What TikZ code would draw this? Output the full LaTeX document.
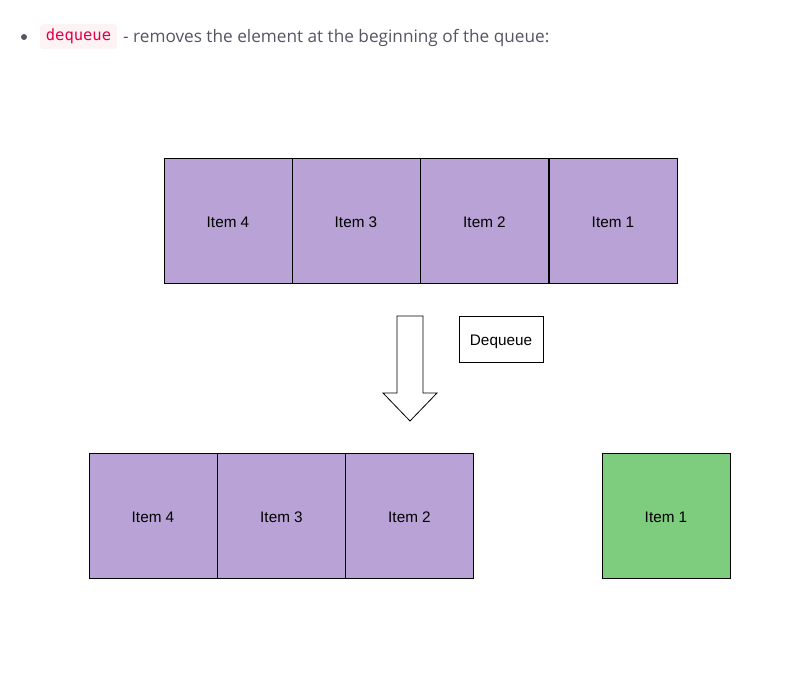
\documentclass[tikz,border=0pt]{standalone}
\usepackage{fontspec}
\setmainfont{Liberation Sans}
\newfontfamily\headfont{Open Sans}
\newfontfamily\codefont{DejaVu Sans Mono}
\definecolor{itempurple}{RGB}{185,163,214}
\definecolor{itemgreen}{RGB}{126,204,126}
\definecolor{codered}{RGB}{224,0,70}
\definecolor{codebg}{RGB}{253,242,244}
\definecolor{textgrey}{RGB}{85,85,100}
\tikzset{
  item/.style = {draw, line width=1pt, fill=itempurple, minimum width=128pt,
    minimum height=125pt, inner sep=0pt, outer sep=0pt, text height=13pt,
    text depth=0pt, font=\fontsize{15.3}{18}\selectfont},
  label box/.style = {draw, line width=0.8pt, fill=white, minimum width=84pt,
    minimum height=46pt, inner sep=0pt, text height=13pt, text depth=0pt,
    font=\fontsize{15.3}{18}\selectfont}
}
\begin{document}
\begin{tikzpicture}[x = 1pt, y = -1pt]
  \useasboundingbox (0,0) rectangle (788,686);
  % heading line
  \fill[textgrey] (24,37) circle (3);
  \node [fill=codebg, rounded corners=3pt, text=codered, inner sep=0pt,
    minimum width=77pt, minimum height=25pt,
    font=\codefont\fontsize{15.5}{18}\selectfont] (code) at (78.5,36.5) {dequeue};
  \node [anchor=west, text=textgrey, inner sep=0pt,
    font=\headfont\fontsize{17.2}{20}\selectfont] (heading) at (123,37.5)
    {- removes the element at the beginning of the queue:};
  % queue before
  \node [item] (a4) at (228,220.5) {Item 4};
  \node [item] (a3) at (356,220.5) {Item 3};
  \node [item] (a2) at (484.5,220.5) {Item 2};
  \node [item] (a1) at (613,220.5) {Item 1};
  % arrow
  \draw [line width=0.8pt, fill=white] (397,316) -- (423,316) -- (423,393)
    -- (437,393) -- (410,421) -- (383,393) -- (397,393) -- cycle;
  \node [label box] (op) at (501,339) {Dequeue};
  % queue after
  \node [item] (b4) at (153,515.5) {Item 4};
  \node [item] (b3) at (281.5,515.5) {Item 3};
  \node [item] (b2) at (409.5,515.5) {Item 2};
  \node [item, fill=itemgreen] (b1) at (666,515.5) {Item 1};
\end{tikzpicture}
\end{document}
